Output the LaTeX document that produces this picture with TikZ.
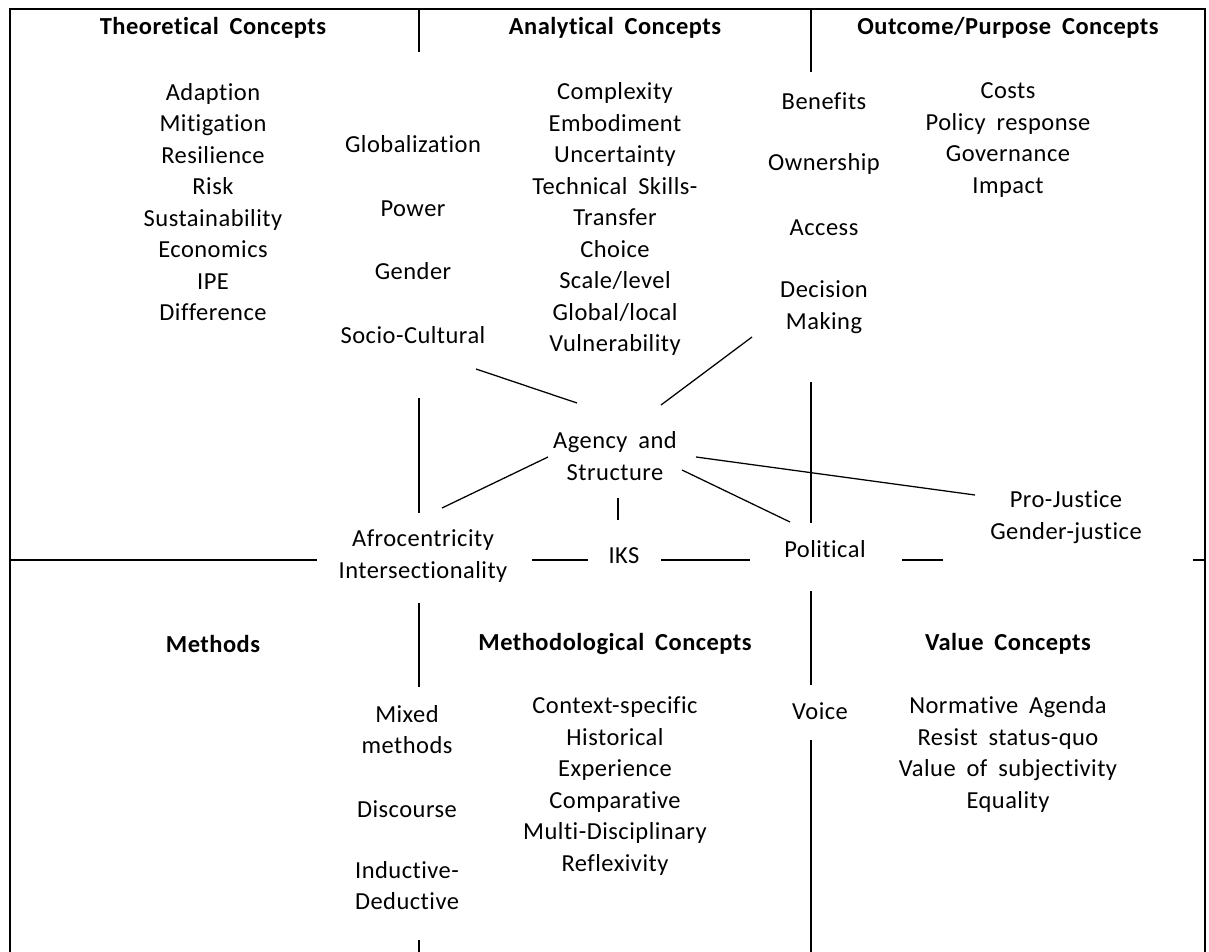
\documentclass[tikz,border=0pt]{standalone}
\usepackage{fontspec}
\setmainfont{Carlito}[Ligatures=NoCommon,LetterSpace=2,WordSpace=1.8]
\usepackage{tikz}

\begin{document}
\begin{tikzpicture}[
  x=0.025cm,y=-0.025cm,
  every node/.style={font=\fontsize{17.4}{22.4}\selectfont,inner sep=1pt},
  term/.style={align=center},
  head/.style={font=\fontsize{17.4}{22.4}\selectfont\bfseries},
  frame/.style={line width=2pt},
  link/.style={line width=0.9pt}
]
  \useasboundingbox (0,0) rectangle (1209,952);

  \node[head] (theohead) at (213,28) {Theoretical Concepts};
  \node[head] (anahead) at (615,28) {Analytical Concepts};
  \node[head] (outhead) at (1008,28) {Outcome/Purpose Concepts};

  \node[term] (theolist) at (213,202) {Adaption\\Mitigation\\Resilience\\Risk\\Sustainability\\Economics\\IPE\\Difference};
  \node[term] (global) at (413,144) {Globalization};
  \node[term] (power) at (413,209) {Power};
  \node[term] (gender) at (413,271) {Gender};
  \node[term] (socio) at (413,335) {Socio-Cultural};

  \node[term] (analist) at (615,219) {Complexity\\Embodiment\\Uncertainty\\Technical Skills-\\Transfer\\Choice\\Scale/level\\Global/local\\Vulnerability};

  \node[term] (benefits) at (824,101) {Benefits};
  \node[term] (owner) at (824,164) {Ownership};
  \node[term] (access) at (824,228) {Access};
  \node[term] (decision) at (824,307) {Decision\\Making};
  \node[term] (outlist) at (1008,140) {Costs\\Policy response\\Governance\\Impact};

  \node[term] (agency) at (615,456) {Agency and\\Structure};
  \node[term] (afro) at (423,556) {Afrocentricity\\Intersectionality};
  \node[term] (iks) at (624,556) {IKS};
  \node[term] (political) at (825,549) {Political};
  \node[term] (justice) at (1066,517) {Pro-Justice\\Gender-justice};

  \node[head] (methhead) at (213,644) {Methods};
  \node[head] (mthhead) at (615,644) {Methodological Concepts};
  \node[head] (valhead) at (1008,644) {Value Concepts};

  \node[term] (mixed) at (407,729.5) {Mixed\\methods};
  \node[term] (discourse) at (407,809) {Discourse};
  \node[term] (induct) at (407,885.5) {Inductive-\\Deductive};
  \node[term] (mthlist) at (615,786) {Context-specific\\Historical\\Experience\\Comparative\\Multi-Disciplinary\\Reflexivity};
  \node[term] (voice) at (820,711) {Voice};
  \node[term] (vallist) at (1008,754.5) {Normative Agenda\\Resist status-quo\\Value of subjectivity\\Equality};

  \draw[frame] (10,952) -- (10,9) -- (1205,9) -- (1205,952);
  \draw[frame] (419,9) -- (419,52);
  \draw[frame] (811,9) -- (811,72);
  \draw[frame] (419,398) -- (419,513);
  \draw[frame] (811,382) -- (811,523);
  \draw[frame] (419,603) -- (419,687);
  \draw[frame] (419,940) -- (419,952);
  \draw[frame] (811,591) -- (811,685);
  \draw[frame] (811,740) -- (811,952);
  \draw[frame] (10,560) -- (317,560);
  \draw[frame] (532,560) -- (588,560);
  \draw[frame] (661,560) -- (750,560);
  \draw[frame] (902,560) -- (943,560);
  \draw[frame] (1193,560) -- (1205,560);

  \draw[link] ([shift={(63,34)}]socio.center) -- ([shift={(-38,-53)}]agency.center);
  \draw[link] ([shift={(-72,30)}]decision.center) -- ([shift={(46,-51)}]agency.center);
  \draw[link] ([shift={(-67,1)}]agency.center) -- ([shift={(19,-48)}]afro.center);
  \draw[link] ([shift={(3,42)}]agency.center) -- ([shift={(-6,-36)}]iks.center);
  \draw[link] ([shift={(67,14)}]agency.center) -- ([shift={(-35,-27)}]political.center);
  \draw[link] ([shift={(81,1)}]agency.center) -- ([shift={(-91,-22)}]justice.center);
\end{tikzpicture}
\end{document}
